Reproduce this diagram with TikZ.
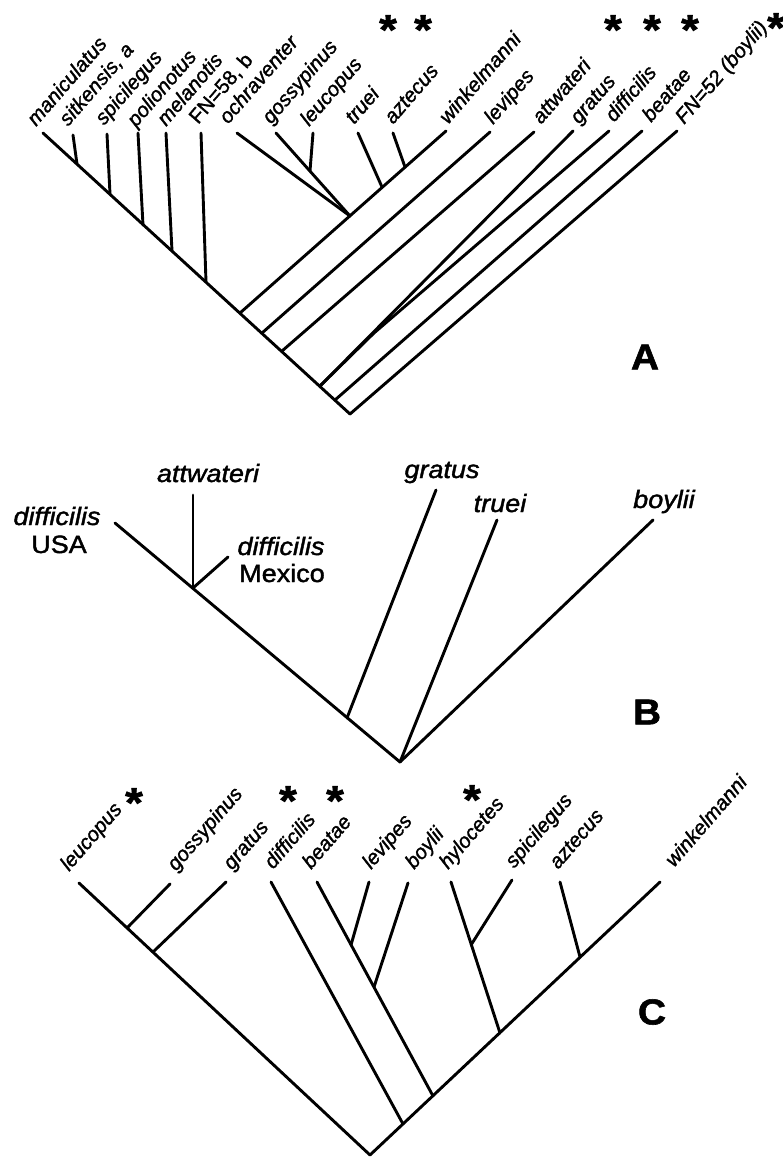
\documentclass[tikz,border=0pt]{standalone}
\usepackage{fontspec}
\newfontfamily\labfont[FakeStretch=1.08,FakeBold=1.6]{Liberation Sans}
\newfontfamily\rotfont[FakeBold=1.5]{Liberation Sans}
\begin{document}
\begin{tikzpicture}[x=1pt,y=-1pt,
  br/.style={line width=2.9pt, line cap=round, line join=round},
  alab/.style={font=\rotfont\itshape\fontsize{20.5}{22}\selectfont, rotate=49, anchor=base west, inner sep=0pt},
  alabup/.style={font=\rotfont\fontsize{20.5}{22}\selectfont, rotate=49, anchor=base west, inner sep=0pt},
  blab/.style={font=\labfont\itshape\fontsize{25}{27}\selectfont, anchor=base, inner sep=0pt},
  blabup/.style={font=\labfont\fontsize{25}{27}\selectfont, anchor=base, inner sep=0pt},
  star/.style={font=\labfont\bfseries\fontsize{42}{42}\selectfont, anchor=north, inner sep=0pt},
  panel/.style={font=\labfont\bfseries\fontsize{36}{36}\selectfont, anchor=center, inner sep=0pt}]
\useasboundingbox (0,0) rectangle (783,1157);
%% ---------------- Panel A ----------------
\coordinate (RA) at (350,414);
\coordinate (tMan) at (43,133);
\coordinate (tSit) at (73,135);   \coordinate (nSit) at (77,164);
\coordinate (tSpi) at (107,134);  \coordinate (nSpi) at (110,194);
\coordinate (tPol) at (138,133);  \coordinate (nPol) at (143,225);
\coordinate (tMel) at (166,133);  \coordinate (nMel) at (172,251);
\coordinate (tF58) at (201,133);  \coordinate (nF58) at (206,282);
\coordinate (nW) at (240,313);
\coordinate (nLev) at (262,333);
\coordinate (nAtt) at (282,351);
\coordinate (nGD) at (320,386);
\coordinate (nBea) at (335,400);
\coordinate (nOch) at (350,216);
\coordinate (nTru) at (382,187);
\coordinate (nAzt) at (405,167);
\coordinate (tWin) at (446,131);
\coordinate (tOch) at (237,133);
\coordinate (tGos) at (276,133);
\coordinate (nGL) at (310,171);
\coordinate (tLeu) at (313,133);
\coordinate (tTru) at (358,133);
\coordinate (tAzt) at (393,133);
\coordinate (tLev) at (490,132);
\coordinate (tAtt) at (534,132);
\coordinate (tGra) at (573,131);
\coordinate (kDif) at (374,333);
\coordinate (tDif) at (609,131);
\coordinate (tBea) at (642,131);
\coordinate (tF52) at (677,131);

\draw[br] (tMan) -- (RA);
\draw[br] (tSit) -- (nSit);
\draw[br] (tSpi) -- (nSpi);
\draw[br] (tPol) -- (nPol);
\draw[br] (tMel) -- (nMel);
\draw[br] (tF58) -- (nF58);
\draw[br] (nW) -- (tWin);
\draw[br] (tOch) -- (nOch);
\draw[br] (tGos) -- (nOch);
\draw[br] (tLeu) -- (nGL);
\draw[br] (tTru) -- (nTru);
\draw[br] (tAzt) -- (nAzt);
\draw[br] (nLev) -- (tLev);
\draw[br] (nAtt) -- (tAtt);
\draw[br] (nGD) -- (tGra);
\draw[br] (nGD) -- (kDif) -- (tDif);
\draw[br] (nBea) -- (tBea);
\draw[br] (RA) -- (tF52);

\node[alab] (lMan) at (36,127) {maniculatus};
\node[alab] (lSit) at (68,127) {sitkensis, a};
\node[alab] (lSpi) at (104,126) {spicilegus};
\node[alab] (lPol) at (136,128) {polionotus};
\node[alab] (lMel) at (166,127) {melanotis};
\node[alabup] (lF58) at (198,125) {FN=58, b};
\node[alab] (lOch) at (228,125) {ochraventer};
\node[alab] (lGos) at (271,125) {gossypinus};
\node[alab] (lLeu) at (309,127) {leucopus};
\node[alab] (lTru) at (354,125) {truei};
\node[alab] (lAzt) at (393,125) {aztecus};
\node[alab] (lWin) at (448,125) {winkelmanni};
\node[alab] (lLev) at (493,125) {levipes};
\node[alab] (lAtt) at (541,125) {attwateri};
\node[alab] (lGra) at (579,125) {gratus};
\node[alab] (lDif) at (614,123) {difficilis};
\node[alab] (lBea) at (651,123) {beatae};
\node[alab] (lF52) at (684,125) {FN=52 (boylii)};

\node[star] (sA1) at (388,15) {*};
\node[star] (sA2) at (423,15) {*};
\node[star] (sA3) at (613,15) {*};
\node[star] (sA4) at (652,15) {*};
\node[star] (sA5) at (690,15) {*};
\node[star] (sA6) at (776,13) {*};

\node[panel] (pA) at (645,357) {A};

%% ---------------- Panel B ----------------
\coordinate (RB) at (400,762);
\coordinate (tUSA) at (115,523);
\coordinate (nAM) at (193,588);
\coordinate (nGrB) at (347,718);
\coordinate (tAttB) at (193,495);
\coordinate (tMex) at (228,557);
\coordinate (tGrB) at (436,490);
\coordinate (tTrB) at (497,520);
\coordinate (tBoB) at (653,520);

\draw[br] (tUSA) -- (RB);
\draw[br] (tAttB) -- (nAM);
\draw[br] (tMex) -- (nAM);
\draw[br] (tGrB) -- (nGrB);
\draw[br] (tTrB) -- (RB);
\draw[br] (tBoB) -- (RB);

\node[blab] (lDifU) at (57,525) {difficilis};
\node[blabup] (lUSA) at (59,553) {USA};
\node[blab] (lAttB) at (208,482) {attwateri};
\node[blab] (lDifM) at (281,555) {difficilis};
\node[blabup] (lMex) at (282,582) {Mexico};
\node[blab] (lGrB) at (442,478) {gratus};
\node[blab] (lTrB) at (500,512) {truei};
\node[blab] (lBoB) at (664,508) {boylii};

\node[panel] (pB) at (647,712) {B};

%% ---------------- Panel C ----------------
\coordinate (RC) at (370,1155);
\coordinate (tLeuC) at (79,883);
\coordinate (nGosC) at (127,928);  \coordinate (tGosC) at (170,884);
\coordinate (nGraC) at (153,952);  \coordinate (tGraC) at (226,882);
\coordinate (tWinC) at (660,882);
\coordinate (nDifC) at (403,1124); \coordinate (tDifC) at (271,882);
\coordinate (nBeaC) at (433,1096); \coordinate (tBeaC) at (317,882);
\coordinate (nLevC) at (351,945);  \coordinate (tLevC) at (369,882);
\coordinate (nBoyC) at (374,987);  \coordinate (tBoyC) at (408,883);
\coordinate (nHylC) at (500,1033); \coordinate (tHylC) at (451,882);
\coordinate (nSpiC) at (471,945);  \coordinate (tSpiC) at (512,880);
\coordinate (nAztC) at (580,957);  \coordinate (tAztC) at (560,882);

\draw[br] (tLeuC) -- (RC) -- (tWinC);
\draw[br] (tGosC) -- (nGosC);
\draw[br] (tGraC) -- (nGraC);
\draw[br] (tDifC) -- (nDifC);
\draw[br] (tBeaC) -- (nBeaC);
\draw[br] (tLevC) -- (nLevC);
\draw[br] (tBoyC) -- (nBoyC);
\draw[br] (tHylC) -- (nHylC);
\draw[br] (tSpiC) -- (nSpiC);
\draw[br] (tAztC) -- (nAztC);

\node[alab] (lLeuC) at (69,872) {leucopus};
\node[alab] (lGosC) at (176,872) {gossypinus};
\node[alab] (lGraC) at (232,871) {gratus};
\node[alab] (lDifC) at (273,870) {difficilis};
\node[alab] (lBeaC) at (311,870) {beatae};
\node[alab] (lLevC) at (371,870) {levipes};
\node[alab] (lBoyC) at (414,870) {boylii};
\node[alab] (lHylC) at (448,870) {hylocetes};
\node[alab] (lSpiC) at (514,869) {spicilegus};
\node[alab] (lAztC) at (558,870) {aztecus};
\node[alab] (lWinC) at (674,868) {winkelmanni};

\node[star] (sC1) at (134,788) {*};
\node[star] (sC2) at (288,786) {*};
\node[star] (sC3) at (335,786) {*};
\node[star] (sC4) at (472,785) {*};

\node[panel] (pC) at (652,1012) {C};
\end{tikzpicture}
\end{document}
